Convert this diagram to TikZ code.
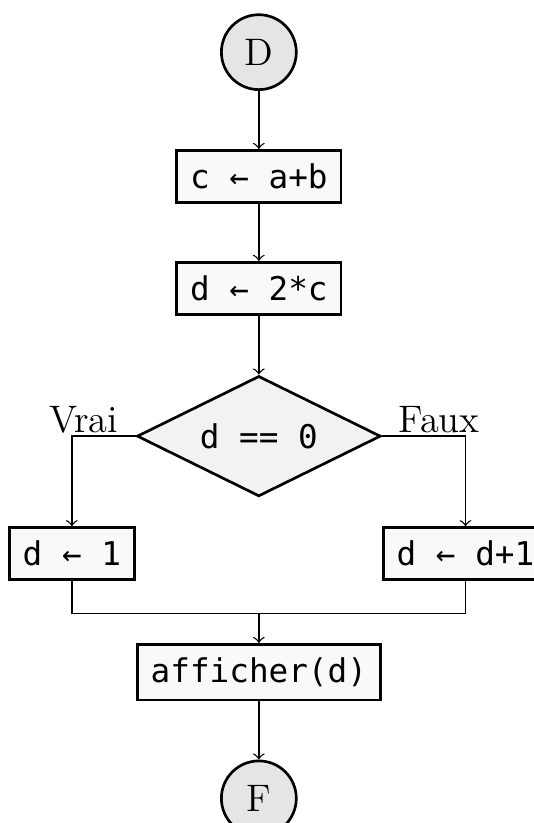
\documentclass[tikz,border=0pt]{standalone}
\usepackage{fontspec}
\newfontfamily\codefont{DejaVu Sans Mono}
\usepackage{tikz}
\usetikzlibrary{shapes.geometric}
\tikzset{
  instr/.style={draw, line width=0.8pt, fill=gray!5, inner sep=4pt,
    font=\codefont\fontsize{9.8}{12}\selectfont},
  terminal/.style={circle, draw, line width=0.8pt, fill=gray!20,
    minimum size=0.79cm, inner sep=0pt, font=\fontsize{11.5}{13}\selectfont},
  test/.style={diamond, aspect=2, draw, line width=0.8pt, fill=gray!10,
    inner sep=0pt, minimum width=2.57cm, minimum height=1.27cm,
    font=\codefont\fontsize{9.8}{12}\selectfont},
  branch/.style={inner sep=0pt, font=\fontsize{11.5}{13}\selectfont},
  flow/.style={->, thin}
}

\begin{document}
\begin{tikzpicture}
  \useasboundingbox (-2.73,0.55) rectangle (2.90,-8.13);
  \node[terminal] (deb) at (0,0) {D};
  \node[instr] (s1) at (0,-1.31) {c ← a+b};
  \node[instr] (s2) at (0,-2.49) {d ← 2*c};
  \node[test] (t) at (0,-4.05) {d == 0};
  \node[instr, anchor=north east] (oui) at ([yshift=-0.95cm]t.west) {d ← 1};
  \node[instr, anchor=north west] (non) at ([yshift=-0.95cm]t.east) {d ← d+1};
  \node[branch, anchor=base east] (vl) at ([xshift=-0.18cm,yshift=0.04cm]t.west) {Vrai};
  \node[branch, anchor=base west] (fl) at ([xshift=0.17cm,yshift=0.04cm]t.east) {Faux};
  \coordinate (j) at (0,-5.92);
  \node[instr] (aff) at (0,-6.54) {afficher(d)};
  \node[terminal] (fin) at (0,-7.87) {F};
  \draw[flow] (deb) -- (s1);
  \draw[flow] (s1) -- (s2);
  \draw[flow] (s2) -- (t);
  \draw[flow] (t.west) -| (oui);
  \draw[flow] (t.east) -| (non);
  \draw[thin] (oui.south) |- (j);
  \draw[thin] (non.south) |- (j);
  \draw[flow] (j) -- (aff);
  \draw[flow] (aff) -- (fin);
\end{tikzpicture}
\end{document}
